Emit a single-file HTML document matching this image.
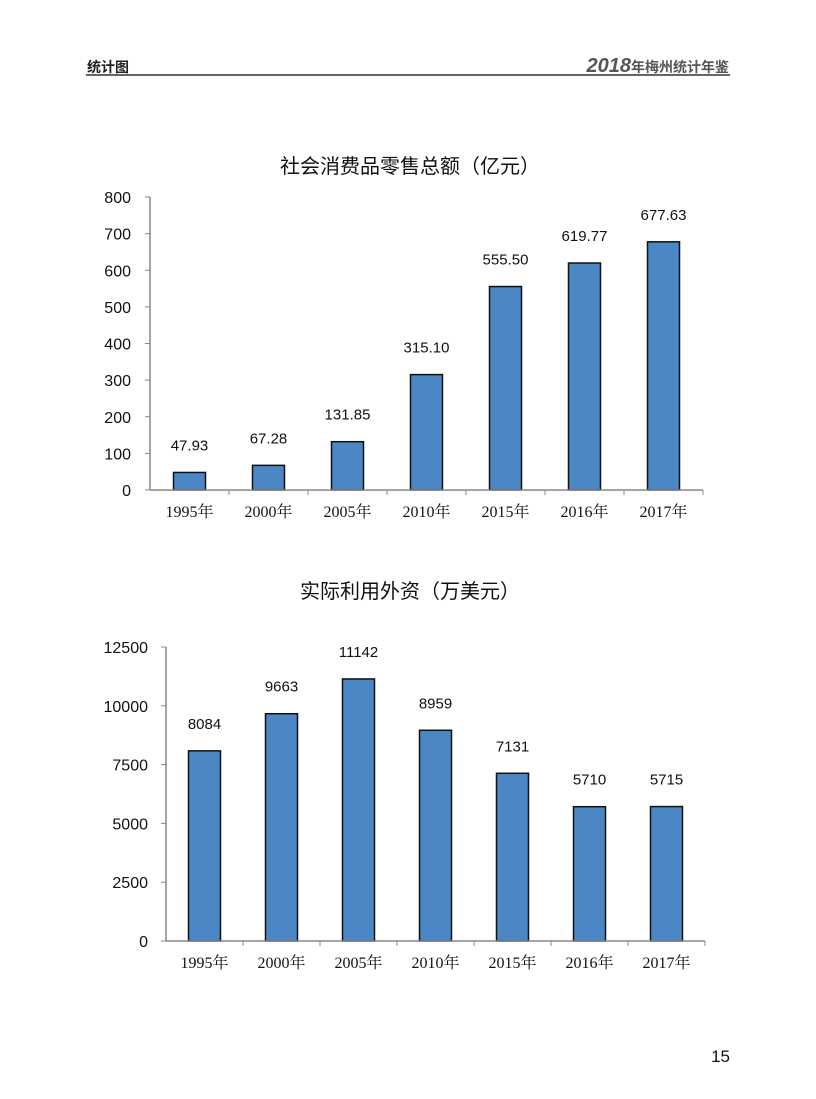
<!DOCTYPE html>
<html><head><meta charset="utf-8"><style>
body{margin:0;background:#fff;}
svg{display:block;font-family:"Liberation Sans","Noto Sans CJK SC",sans-serif;}
.ser{font-family:"Liberation Serif","Noto Serif CJK SC",serif;}
</style></head><body>
<svg id="s" width="816" height="1099" xmlns="http://www.w3.org/2000/svg">
<text x="87" y="72" font-size="14" font-weight="bold" fill="#222">统计图</text>
<text x="729" y="72" text-anchor="end" font-size="14" font-weight="bold" fill="#555"><tspan font-size="20" font-style="italic" font-weight="900">2018</tspan>年梅州统计年鉴</text>
<rect x="86" y="74" width="644" height="2" fill="#666"/>
<text x="410" y="173" text-anchor="middle" font-size="20" fill="#111" font-family="Noto Sans CJK SC, sans-serif">社会消费品零售总额（亿元）</text>
<text x="410" y="598" text-anchor="middle" font-size="20" fill="#111" font-family="Noto Sans CJK SC, sans-serif">实际利用外资（万美元）</text>
<text x="730" y="1062" text-anchor="end" font-size="17" fill="#111">15</text>
<g id="c1"></g><g id="c2"></g>
</svg>
<script>
const categories=["1995年","2000年","2005年","2010年","2015年","2016年","2017年"];
const retailValues=[47.93,67.28,131.85,315.10,555.50,619.77,677.63];
const retailLabels=["47.93","67.28","131.85","315.10","555.50","619.77","677.63"];
const retailTicks=[0,100,200,300,400,500,600,700,800];
const fdiValues=[8084,9663,11142,8959,7131,5710,5715];
const fdiLabels=["8084","9663","11142","8959","7131","5710","5715"];
const fdiTicks=[0,2500,5000,7500,10000,12500];
const NS="http://www.w3.org/2000/svg";
function mk(p,t,a){const e=document.createElementNS(NS,t);for(const k in a)e.setAttribute(k,a[k]);p.appendChild(e);return e;}
function draw(g,pre,vals,labs,ticks,x0,step,y0,yTop,max,labX){
 const ys=v=>y0-(v/max)*(y0-yTop);
 const xe=x0+step*categories.length;
 ticks.forEach(t=>{
  const tx=mk(g,"text",{x:labX,y:ys(t)+6,"text-anchor":"end","font-size":"16",fill:"#111"});
  tx.textContent=t;
  
  
  const tl=mk(g,"line",{x1:x0-5,x2:x0,y1:ys(t),y2:ys(t),stroke:"#888"});
  
  
 });
 const ya=mk(g,"line",{x1:x0,x2:x0,y1:yTop,y2:y0,stroke:"#888","stroke-width":"1.5"});
 
 
 vals.forEach((v,i)=>{
  const cx=x0+step*(i+0.5);
  const b=mk(g,"rect",{x:cx-16,y:ys(v),width:32,height:y0-ys(v),fill:"#4b86c5",stroke:"#111","stroke-width":"1.5"});
  
  
  const vl=mk(g,"text",{x:cx,y:ys(v)-22,"text-anchor":"middle","font-size":"15",fill:"#111"});
  vl.textContent=labs[i];
  
  
  const cl=mk(g,"text",{x:cx,y:y0+27,"text-anchor":"middle","font-size":"16",fill:"#111","class":"ser"});
  cl.textContent=categories[i];
  
  
  const xt=mk(g,"line",{x1:x0+step*(i+1),x2:x0+step*(i+1),y1:y0,y2:y0+5,stroke:"#888"});
  
  
 });
 const xa=mk(g,"line",{x1:x0,x2:xe,y1:y0,y2:y0,stroke:"#888","stroke-width":"1.5"});
 
 
}
draw(document.getElementById("c1"),"retail",retailValues,retailLabels,retailTicks,150,79,490,197,800,131);
draw(document.getElementById("c2"),"fdi",fdiValues,fdiLabels,fdiTicks,166,77,941,647,12500,148);
</script>
</body></html>
